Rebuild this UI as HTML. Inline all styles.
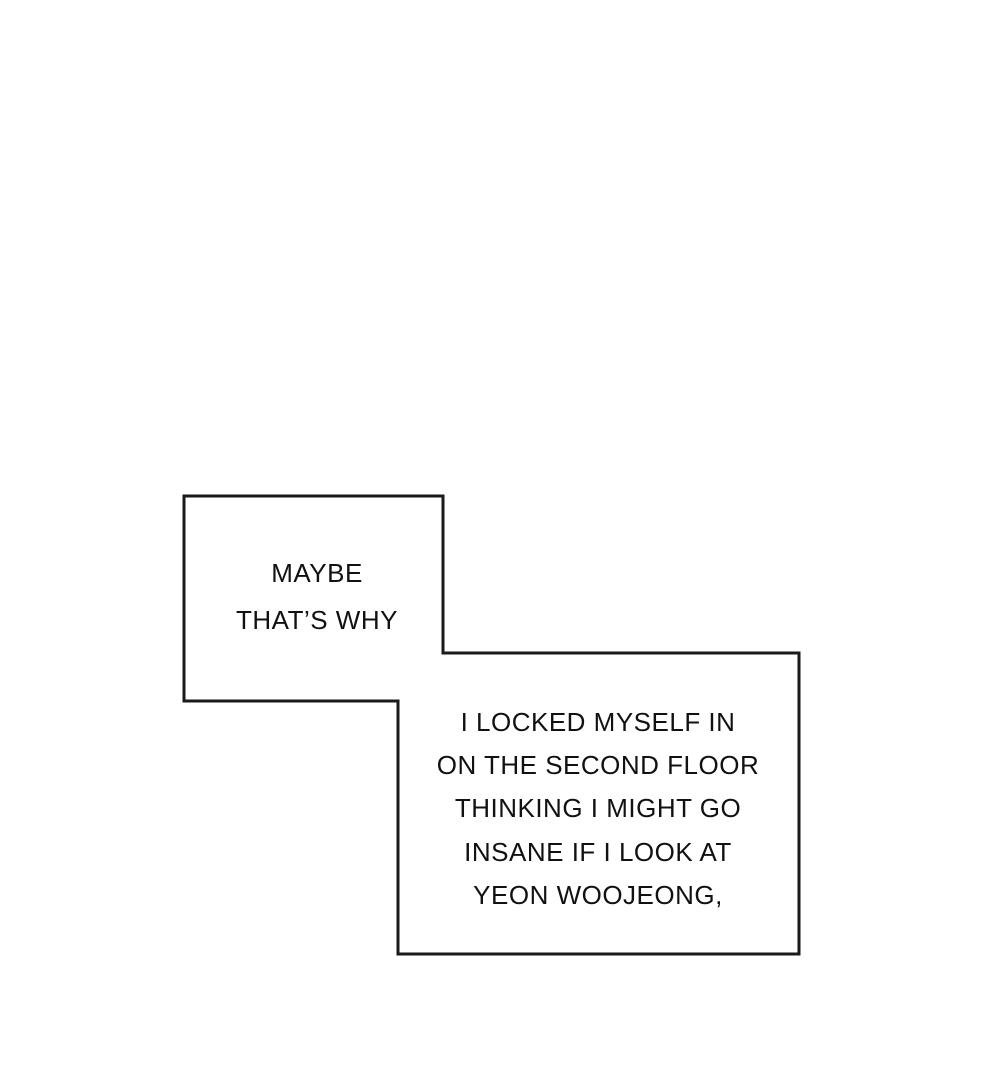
<!DOCTYPE html>
<html><head><meta charset="utf-8"><style>
html,body{margin:0;padding:0;background:#fff;}
svg{display:block}
text{font-family:"Liberation Sans",sans-serif;font-size:26px;fill:#111;text-anchor:middle;letter-spacing:0.5px}
</style></head><body>
<svg width="1000" height="1080" viewBox="0 0 1000 1080">
<rect width="1000" height="1080" fill="#fff"/>
<polygon points="184,496 443,496 443,653 799,653 799,954 398,954 398,701 184,701" fill="#fff" stroke="#1a1a1a" stroke-width="3"/>
<text x="317" y="582">MAYBE</text>
<text x="317" y="629">THAT’S WHY</text>
<text x="598" y="731">I LOCKED MYSELF IN</text>
<text x="598" y="774">ON THE SECOND FLOOR</text>
<text x="598" y="817">THINKING I MIGHT GO</text>
<text x="598" y="861">INSANE IF I LOOK AT</text>
<text x="598" y="904">YEON WOOJEONG,</text>
</svg>
</body></html>
